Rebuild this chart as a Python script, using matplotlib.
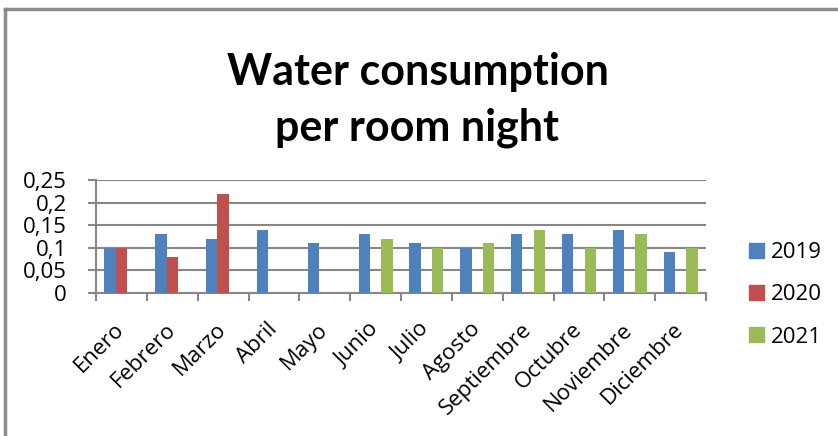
import numpy as np
import matplotlib
matplotlib.use("Agg")
import matplotlib.pyplot as plt
from matplotlib.lines import Line2D
from matplotlib.patches import Patch

plt.rcParams["font.family"] = ["Open Sans", "DejaVu Sans"]

months = ["Enero", "Febrero", "Marzo", "Abril", "Mayo", "Junio", "Julio",
          "Agosto", "Septiembre", "Octubre", "Noviembre", "Diciembre"]
y2019 = [0.10, 0.13, 0.12, 0.14, 0.11, 0.13, 0.11, 0.10, 0.13, 0.13, 0.14, 0.09]
y2020 = [0.10, 0.08, 0.22, np.nan, np.nan, np.nan, np.nan, np.nan, np.nan, np.nan, np.nan, np.nan]
y2021 = [np.nan, np.nan, np.nan, np.nan, np.nan, 0.12, 0.10, 0.11, 0.14, 0.10, 0.13, 0.10]
series = [("2019", y2019, "#4F81BD"), ("2020", y2020, "#C0504D"), ("2021", y2021, "#9BBB59")]
yticks = [0, 0.05, 0.1, 0.15, 0.2, 0.25]
ytick_labels = ["0", "0,05", "0,1", "0,15", "0,2", "0,25"]

W, H = 838, 436
fig = plt.figure(figsize=(W / 100, H / 100), dpi=100)
ax = fig.add_axes([96 / W, 1 - 293 / H, (706 - 96) / W, (293 - 180) / H])

x = np.arange(len(months))
bw = 1 / 4.5
for i, (name, vals, col) in enumerate(series):
    ax.bar(x + (i - 1) * bw, vals, width=bw, color=col, zorder=3)

fs = 16
grid_col = "#878787"
ax.set_ylim(0, 0.25)
ax.set_xlim(-0.5, len(months) - 0.5)
ax.set_yticks(yticks)
ax.set_yticklabels(ytick_labels, fontsize=fs)
ax.yaxis.grid(True, color=grid_col, linewidth=1.5, zorder=0)
for s in ["top", "right"]:
    ax.spines[s].set_visible(False)
for s in ["left", "bottom"]:
    ax.spines[s].set_color(grid_col)
    ax.spines[s].set_linewidth(1.5)
ax.tick_params(axis="y", length=6, width=1.5, color=grid_col, pad=15)

ax.set_xticks(x)
ax.set_xticks(np.arange(-0.5, len(months)), minor=True)
ax.tick_params(axis="x", which="minor", length=6, width=1.5, color=grid_col)
ax.tick_params(axis="x", which="major", length=0, pad=24)
ax.set_xticklabels(months, fontsize=fs, rotation=45, ha="right", va="center",
                   rotation_mode="anchor")

fig.text(418 / W, 1 - 85 / H, "Water consumption", ha="center", va="baseline",
         fontsize=31, fontweight="bold", family=["Lato", "DejaVu Sans"])
fig.text(417 / W, 1 - 140 / H, "per room night", ha="center", va="baseline",
         fontsize=31, fontweight="bold", family=["Lato", "DejaVu Sans"])

handles = [Patch(color=c) for _, _, c in series]
fig.legend(handles, [n for n, _, _ in series], loc="center left",
           bbox_to_anchor=(749 / W, 1 - 295 / H), frameon=False, fontsize=fs,
           handlelength=0.68, handleheight=0.68, handletextpad=0.3,
           labelspacing=0.95, borderpad=0, borderaxespad=0)

# chart border (top and left edges visible)
fig.add_artist(Line2D([5 / W, 1], [1 - 9 / H, 1 - 9 / H], color="#8c8c8c", linewidth=2.5,
                      transform=fig.transFigure))
fig.add_artist(Line2D([5 / W, 5 / W], [0, 1 - 9 / H], color="#8c8c8c", linewidth=2.5,
                      transform=fig.transFigure))

fig.savefig("out.png", dpi=100)
